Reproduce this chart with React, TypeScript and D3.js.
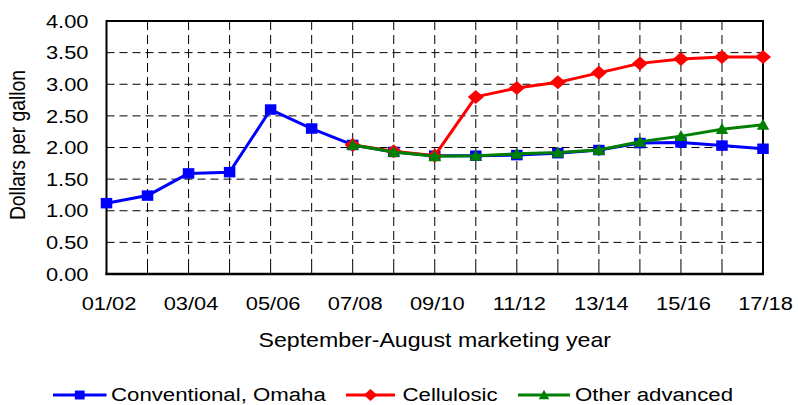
import React from "react";
import * as d3 from "d3";

const categories = ["01/02","02/03","03/04","04/05","05/06","06/07","07/08","08/09","09/10","10/11","11/12","12/13","13/14","14/15","15/16","16/17","17/18"];
const tickLabels = ["01/02","03/04","05/06","07/08","09/10","11/12","13/14","15/16","17/18"];
const yTicks = [0, 0.5, 1, 1.5, 2, 2.5, 3, 3.5, 4];
const conventional: (number | null)[] = [1.12,1.24,1.59,1.61,2.60,2.30,2.04,1.93,1.87,1.87,1.88,1.91,1.96,2.07,2.08,2.03,1.98];
const cellulosic: (number | null)[] = [null,null,null,null,null,null,2.04,1.94,1.87,2.80,2.94,3.03,3.18,3.33,3.40,3.43,3.43];
const otherAdvanced: (number | null)[] = [null,null,null,null,null,null,2.04,1.93,1.86,1.87,1.90,1.92,1.96,2.09,2.18,2.29,2.36];
const seriesNames = ["Conventional, Omaha", "Cellulosic", "Other advanced"];

const W = 798, H = 405;
const L = 106.5, R = 763, T = 21, B = 274;
const SX = 1.17;
const FONT = '"Liberation Sans", Arial, sans-serif';

const x = d3.scalePoint<string>().domain(categories).range([L, R]).padding(0);
const y = d3.scaleLinear().domain([0, 4]).range([B, T]);

type Marker = "square" | "diamond" | "triangle";

function MarkerShape({ kind, cx, cy, color, s = 1 }: { kind: Marker; cx: number; cy: number; color: string; s?: number }) {
  if (kind === "square") {
    const w = 11.5 * s, h = 10.5 * s;
    return <rect x={cx - w / 2} y={cy - h / 2} width={w} height={h} fill={color} />;
  }
  if (kind === "diamond") {
    const w = 16 * s / 2, h = 14 * s / 2;
    return <path d={`M${cx - w},${cy}L${cx},${cy - h}L${cx + w},${cy}L${cx},${cy + h}Z`} fill={color} />;
  }
  const w = 12.5 * s / 2, h = 11 * s;
  return <path d={`M${cx - w},${cy + h * 0.45}L${cx},${cy - h * 0.55}L${cx + w},${cy + h * 0.45}Z`} fill={color} />;
}

function Txt({ x: tx, y: ty, anchor = "start", size = 18.7, children }: any) {
  return (
    <g transform={`translate(${tx},${ty}) scale(${SX},1)`}>
      <text x={0} y={0} textAnchor={anchor} fontFamily={FONT} fontSize={size} fill="#000">{children}</text>
    </g>
  );
}

const series: { name: string; data: (number | null)[]; color: string; marker: Marker }[] = [
  { name: seriesNames[0], data: conventional, color: "#0000FF", marker: "square" },
  { name: seriesNames[1], data: cellulosic, color: "#FF0000", marker: "diamond" },
  { name: seriesNames[2], data: otherAdvanced, color: "#008000", marker: "triangle" },
];

export default function App() {
  const line = d3.line<number | null>()
    .defined((d) => d != null)
    .x((_, i) => x(categories[i]) as number)
    .y((d) => y(d as number));

  const legendItems = [
    { x1: 53, x2: 106.5, tx: 111 },
    { x1: 346, x2: 395, tx: 402.5 },
    { x1: 518, x2: 570, tx: 575 },
  ];

  return (
    <svg width={W} height={H} style={{ position: "absolute", left: 0, top: 0, background: "#fff" }}>
      <rect x={0} y={0} width={W} height={H} fill="#fff" />
      {/* horizontal grid */}
      {yTicks.filter((t) => t > 0 && t < 4).map((t) => (
        <line key={"h" + t} x1={L} x2={R} y1={y(t)} y2={y(t)} stroke="#000" strokeWidth={1} strokeDasharray="8,5" />
      ))}
      {/* vertical grid */}
      {categories.slice(1, -1).map((c) => (
        <line key={"v" + c} x1={x(c)} x2={x(c)} y1={T} y2={B} stroke="#000" strokeWidth={1} strokeDasharray="9,5" />
      ))}
      {/* x ticks */}
      {categories.map((c) => (
        <line key={"t" + c} x1={x(c)} x2={x(c)} y1={B} y2={B - 6} stroke="#000" strokeWidth={1} />
      ))}
      {/* frame */}
      <rect x={L} y={T} width={R - L} height={B - T} fill="none" stroke="#000" strokeWidth={2} />
      <line x1={L - 1} x2={R + 1} y1={B} y2={B} stroke="#000" strokeWidth={2.6} />

      {/* series */}
      {series.map((s) => (
        <g key={s.name}>
          <path d={line(s.data) || ""} fill="none" stroke={s.color} strokeWidth={3} strokeLinejoin="round" />
          {s.data.map((v, i) =>
            v == null ? null : (
              <MarkerShape key={i} kind={s.marker} cx={x(categories[i]) as number} cy={y(v)} color={s.color} />
            )
          )}
        </g>
      ))}

      {/* y tick labels */}
      {yTicks.map((t) => (
        <Txt key={"yl" + t} x={88.5} y={y(t) + 6.7} anchor="end">{t.toFixed(2)}</Txt>
      ))}
      {/* x tick labels */}
      {tickLabels.map((c) => (
        <Txt key={"xl" + c} x={(x(c) as number) + 2.5} y={310} anchor="middle">{c}</Txt>
      ))}
      {/* axis titles */}
      <Txt x={(L + R) / 2} y={346.5} anchor="middle" size={19.8}>September-August marketing year</Txt>
      <g transform={`translate(25,145) scale(${SX},1) rotate(-90)`}>
        <text x={0} y={0} textAnchor="middle" fontFamily={FONT} fontSize={19.3} fill="#000">Dollars per gallon</text>
      </g>

      {/* legend */}
      {series.map((s, i) => {
        const it = legendItems[i];
        return (
          <g key={"lg" + s.name}>
            <line x1={it.x1} x2={it.x2} y1={395} y2={395} stroke={s.color} strokeWidth={3} />
            <MarkerShape kind={s.marker} cx={(it.x1 + it.x2) / 2} cy={395} color={s.color} s={0.85} />
            <Txt x={it.tx} y={400.5} size={19}>{s.name}</Txt>
          </g>
        );
      })}
    </svg>
  );
}
